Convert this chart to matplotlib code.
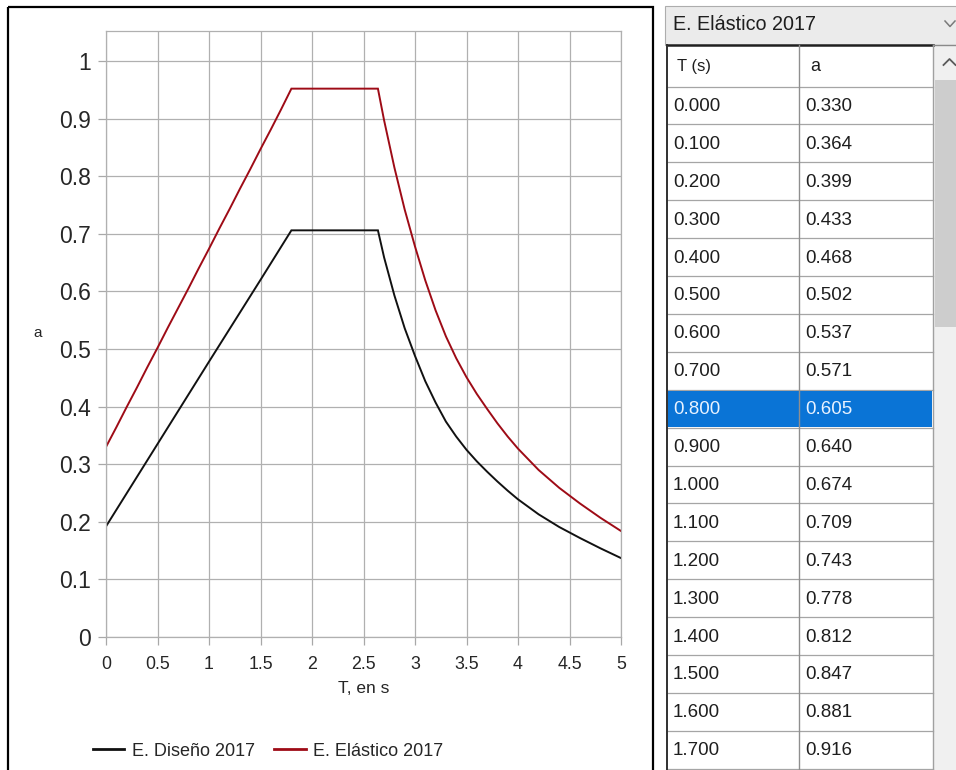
import matplotlib
matplotlib.use("Agg")
import matplotlib.pyplot as plt
from matplotlib.patches import Rectangle
from matplotlib.lines import Line2D

plt.rcParams['font.family'] = ['Liberation Sans', 'DejaVu Sans']

# ---------------- data ----------------
# tabulated elastic spectrum (rows listed in the side table)
table_T = [0.0, 0.1, 0.2, 0.3, 0.4, 0.5, 0.6, 0.7, 0.8, 0.9,
           1.0, 1.1, 1.2, 1.3, 1.4, 1.5, 1.6, 1.7]
table_a = [0.330, 0.364, 0.399, 0.433, 0.468, 0.502, 0.537, 0.571, 0.605,
           0.640, 0.674, 0.709, 0.743, 0.778, 0.812, 0.847, 0.881, 0.916]
selected_row = 8

# elastic spectrum beyond the tabulated rows (plateau and descending branch)
elastic_T_tail = [1.8, 2.64, 2.7, 2.8, 2.9, 3.0, 3.1, 3.2, 3.3, 3.4, 3.5,
                  3.6, 3.7, 3.8, 3.9, 4.0, 4.2, 4.4, 4.6, 4.8, 5.0]
elastic_a_tail = [0.952, 0.952, 0.897, 0.815, 0.742, 0.678, 0.619, 0.567,
                  0.522, 0.484, 0.451, 0.422, 0.396, 0.371, 0.348, 0.327,
                  0.290, 0.259, 0.232, 0.207, 0.184]

# design spectrum
design_T = [0.0, 0.5, 1.0, 1.5, 1.8, 2.64, 2.7, 2.8, 2.9, 3.0, 3.1, 3.2,
            3.3, 3.4, 3.5, 3.6, 3.7, 3.8, 3.9, 4.0, 4.2, 4.4, 4.6, 4.8, 5.0]
design_a = [0.192, 0.335, 0.478, 0.620, 0.706, 0.706, 0.659, 0.593, 0.536,
            0.488, 0.444, 0.407, 0.374, 0.348, 0.325, 0.305, 0.287, 0.270,
            0.254, 0.239, 0.213, 0.191, 0.172, 0.154, 0.137]

x_ticks = [0, 0.5, 1, 1.5, 2, 2.5, 3, 3.5, 4, 4.5, 5]
x_tick_labels = ["0", "0.5", "1", "1.5", "2", "2.5", "3", "3.5", "4", "4.5", "5"]
y_ticks = [0, 0.1, 0.2, 0.3, 0.4, 0.5, 0.6, 0.7, 0.8, 0.9, 1.0]
y_tick_labels = ["0", "0.1", "0.2", "0.3", "0.4", "0.5", "0.6", "0.7", "0.8", "0.9", "1"]

series_names = ["E. Diseño 2017", "E. Elástico 2017"]
series_colors = ["#111111", "#9e0b16"]
combo_text = "E. Elástico 2017"
col_headers = ["T (s)", "a"]

# ---------------- figure ----------------
W, H = 956, 770
fig = plt.figure(figsize=(W / 100, H / 100), dpi=100)
fig.patch.set_facecolor("white")

# pixel-space layer for the window chrome and the table
ui = fig.add_axes([0, 0, 1, 1], zorder=0)
ui.set_xlim(0, W)
ui.set_ylim(H, 0)
ui.axis("off")
ui.patch.set_alpha(0)

# chart panel frame
ui.add_patch(Rectangle((8, 7), 645, 780, fill=False, ec="black", lw=1.6))

# ---------------- chart ----------------
px_l, px_r, px_t, px_b = 106, 621, 31, 637
ax = fig.add_axes([px_l / W, 1 - px_b / H, (px_r - px_l) / W, (px_b - px_t) / H], zorder=2)
ax.patch.set_alpha(0)

elastic_T = table_T + elastic_T_tail
elastic_a = table_a + elastic_a_tail
ax.plot(design_T, design_a, color=series_colors[0], lw=1.4, solid_joinstyle="miter")
ax.plot(elastic_T, elastic_a, color=series_colors[1], lw=1.4, solid_joinstyle="miter")

ax.set_xlim(0, 5)
ax.set_ylim(0, (px_b - px_t) / 576.0)
ax.set_xticks(x_ticks)
ax.set_xticklabels(x_tick_labels)
ax.set_yticks(y_ticks)
ax.set_yticklabels(y_tick_labels)
ax.grid(True, color="#b0b0b0", lw=0.9)
ax.set_axisbelow(True)
for s in ax.spines.values():
    s.set_color("#b0b0b0")
    s.set_linewidth(0.9)
ax.tick_params(axis="both", color="#a8a8a8", length=5.5, width=0.9, labelcolor="#262626")
ax.tick_params(axis="y", labelsize=16.5, pad=5.5)
ax.tick_params(axis="x", labelsize=12.8, pad=8)

ax.set_xlabel("T, en s", fontsize=12.5, color="#262626")
ax.xaxis.set_label_coords(0.5, (px_b - 681) / (px_b - px_t))
ax.set_ylabel("a", rotation=0, fontsize=11, color="#262626", ha="center", va="center")
ax.yaxis.set_label_coords((38 - px_l) / (px_r - px_l), (px_b - 333) / (px_b - px_t))

handles = [Line2D([], [], color=c, lw=2) for c in series_colors]
fig.legend(handles, series_names, loc="center", ncol=2, frameon=False,
           bbox_to_anchor=(268 / W, 1 - 751 / H), fontsize=13, handlelength=1.75,
           handletextpad=0.4, columnspacing=1.1, labelcolor="#262626")

# ---------------- side table ----------------
tx0, tcol, tx1 = 667, 799, 933
hdr_top, row0, row_h = 45, 86.5, 37.9
table_font = 13.5

# combo box
ui.add_patch(Rectangle((665, 6), 300, hdr_top - 6, fc="#ebebeb", ec="#adadad", lw=0.8))
ui.text(673, 24, combo_text, fontsize=14.2, va="center", ha="left", color="#1e1e1e")
ui.plot([945, 950, 955], [21, 26.5, 21], color="#7a7a7a", lw=1.1)

# scrollbar
ui.add_patch(Rectangle((tx1, hdr_top), 30, H - hdr_top, fc="#f0f0f0", ec="none"))
ui.add_patch(Rectangle((935.5, 80), 30, 247, fc="#cdcdcd", ec="none"))
ui.plot([943.5, 949.5, 955.5], [65, 59, 65], color="#5a5a5a", lw=1.3)

# table body
ui.add_patch(Rectangle((tx0, hdr_top), tx1 - tx0, H - hdr_top, fc="white", ec="none"))
n_rows = len(table_T)
sel_y = row0 + row_h * selected_row
ui.add_patch(Rectangle((tx0 + 1, sel_y + 0.8), tx1 - tx0 - 1.5, row_h - 1.2,
                       fc="#0a74d6", ec="none", zorder=3))
for i in range(n_rows + 1):
    y = row0 + row_h * i
    ui.plot([tx0, tx1], [y, y], color="#a5a5a5", lw=0.9, zorder=2)
ui.plot([tx0, tx1], [hdr_top, hdr_top], color="#202020", lw=1.8, zorder=4)
ui.plot([tx1, W], [hdr_top, hdr_top], color="#8a8a8a", lw=1.0, zorder=4)
ui.plot([tx0, tx0], [hdr_top, H], color="#303030", lw=1.4, zorder=4)
ui.plot([tcol, tcol], [hdr_top, H], color="#8f8f8f", lw=1.0, zorder=4)
ui.plot([tx1, tx1], [hdr_top, H], color="#a0a0a0", lw=1.0, zorder=4)

hdr_y = (hdr_top + row0) / 2 + 1
ui.text(677, hdr_y, col_headers[0], fontsize=table_font - 1.5, va="center", color="#1e1e1e")
ui.text(810, hdr_y, col_headers[1], fontsize=table_font - 0.5, va="center", color="#1e1e1e")

for i, (t, a) in enumerate(zip(table_T, table_a)):
    yc = row0 + row_h * (i + 0.5) + 1
    col = "#e8f2ff" if i == selected_row else "#1e1e1e"
    ui.text(673, yc, f"{t:.3f}", fontsize=table_font, va="center", color=col, zorder=5)
    ui.text(805, yc, f"{a:.3f}", fontsize=table_font, va="center", color=col, zorder=5)

fig.savefig("out.png", dpi=100)
